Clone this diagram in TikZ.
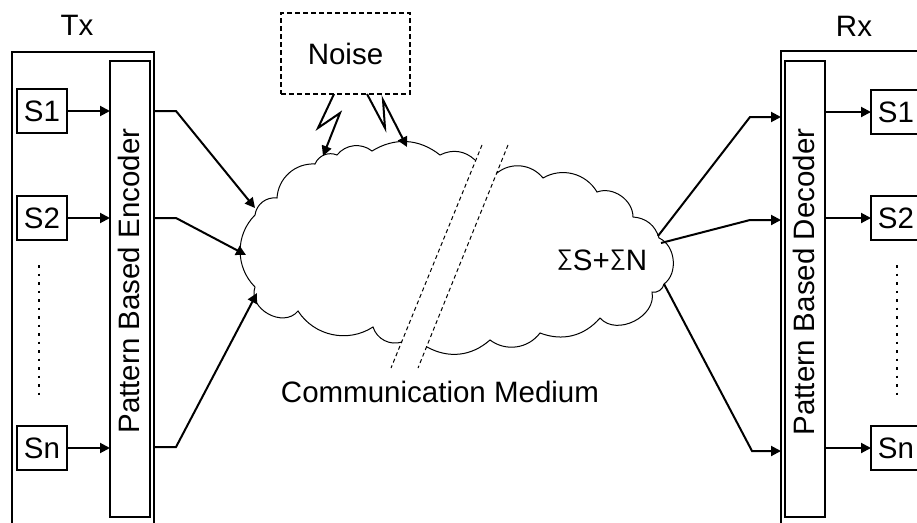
\documentclass[tikz,border=0pt]{standalone}
\usepackage{fontspec}
\setmainfont{Liberation Sans}
\usetikzlibrary{arrows.meta,calc}

% summation sign resting on the baseline, as tall as a capital letter
\newsavebox\sumglyphbox
\newcommand\sumsign{%
  \sbox\sumglyphbox{∑}%
  \resizebox{!}{\fontcharht\font`S}{\raisebox{\dp\sumglyphbox}{\usebox\sumglyphbox}}}

\begin{document}
\begin{tikzpicture}[x=1pt,y=-1pt,
  every node/.style={inner sep=0pt, outer sep=0pt},
  lbl/.style={font=\fontsize{29.5}{35}\selectfont},
  box/.style={draw, line width=2pt},
  srcbox/.style={box, minimum width=50pt, minimum height=44pt, lbl},
  wire/.style={line width=2pt},
  arr/.style={wire, -{Triangle[length=10pt,width=10pt]}},
  cloudline/.style={line width=1pt},
  bump/.style={bend right=45},
  dotline/.style={line width=1.5pt, dash pattern=on 2.5pt off 6pt},
  cut/.style={line width=1pt, dash pattern=on 4pt off 3pt},
]
\clip (0,0) rectangle (917,522);
\fill[white] (0,0) rectangle (917,522);

% ---------- transmitter ----------
\node[box, minimum width=142pt, minimum height=520pt] (tx) at (83,312) {};
\node[box, minimum width=40pt, minimum height=456pt] (enc) at (130,289) {};
\node[lbl, rotate=90] (enclbl) at (129,281) {Pattern Based Encoder};
\node[lbl] (txlbl) at (77,25) {Tx};
\node[srcbox] (s1) at (42,111) {S1};
\node[srcbox] (s2) at (42,218) {S2};
\node[srcbox] (sn) at (42,448) {Sn};
\draw[dotline] (39,265) -- (39,395);
\foreach \s in {s1,s2,sn}
  \draw[arr] (\s.east) -- (\s.east -| enc.west);

% ---------- receiver ----------
\node[box, minimum width=160pt, minimum height=520pt] (rx) at (861,311) {};
\node[box, minimum width=40pt, minimum height=456pt] (dec) at (805,289) {};
\node[lbl, rotate=90] (declbl) at (804,282) {Pattern Based Decoder};
\node[lbl] (rxlbl) at (854,26) {Rx};
\node[srcbox] (r1) at (896,112) {S1};
\node[srcbox] (r2) at (896,218) {S2};
\node[srcbox] (rn) at (896,448) {Sn};
\draw[dotline] (897,265) -- (897,395);
\foreach \r in {r1,r2,rn}
  \draw[arr] (\r.west -| dec.east) -- (\r.west);

% ---------- noise source ----------
\node[draw, line width=1.2pt, dash pattern=on 5pt off 3pt,
      minimum width=129pt, minimum height=81pt, lbl] (noise) at (345.5,53.5) {Noise};

% ---------- channel cloud ----------
\coordinate (in1) at (255,208);
\coordinate (in2) at (246,255);
\coordinate (in3) at (257,293);
\coordinate (hit1) at (323,156);
\coordinate (hit2) at (407,147);
\coordinate (out1) at (658,236);
\coordinate (out2) at (661,243);
\coordinate (out3) at (664,284);

\draw[cloudline] (475,160) to[bend right=35] (440,155) to[bend right=35] (372,151)
  to[bump] (337,155) to[bump] (315,164) to[bump] (277,198) to[bump] (255,215)
  to[bump] (255,287) to[bend right=80, looseness=1.2] (298,311) to[bump] (373,327)
  to[bump] (402,342);
\draw[cloudline] (427,347) to[bend right=35] (490,340) to[bump] (540,333)
  to[bend right=35] (600,318) to[bend right=75, looseness=1.1] (652,292) to[bump] (664,284)
  to[bend right=60] (659,238) to[bend right=35] (633,217) to[bend right=55] (597,192)
  to[bump] (543,178) to[bump] (497,173);
\draw[cut] (482,145) -- (391,368);
\draw[cut] (508,145) -- (418,368);

\node[lbl, anchor=base] (sum) at (602,270) {\sumsign S+\sumsign N};
\node[lbl, anchor=base] (medium) at (440,402) {Communication Medium};

% ---------- noise bolts ----------
\coordinate (b1) at (334,94);
\coordinate (b2) at (367,94);
\draw[arr] (b1) -- (318,128) -- (340,113) -- (hit1);
\draw[arr] (b2) -- (385,128) -- (383,100) -- (hit2);

% ---------- encoder to channel ----------
\coordinate (k1) at (176,111);
\coordinate (k2) at (176,218);
\coordinate (k3) at (176,447);
\draw[arr] (tx.east |- k1) -- (k1) -- (in1);
\draw[arr] (tx.east |- k2) -- (k2) -- (in2);
\draw[arr] (tx.east |- k3) -- (k3) -- (in3);

% ---------- channel to decoder ----------
\coordinate (m1) at (750,117);
\coordinate (m2) at (750,220);
\coordinate (m3) at (752,451);
\draw[arr] (out1) -- (m1) -- (m1 -| rx.west);
\draw[arr] (out2) -- (m2) -- (m2 -| rx.west);
\draw[arr] (out3) -- (m3) -- (m3 -| rx.west);
\end{tikzpicture}
\end{document}
